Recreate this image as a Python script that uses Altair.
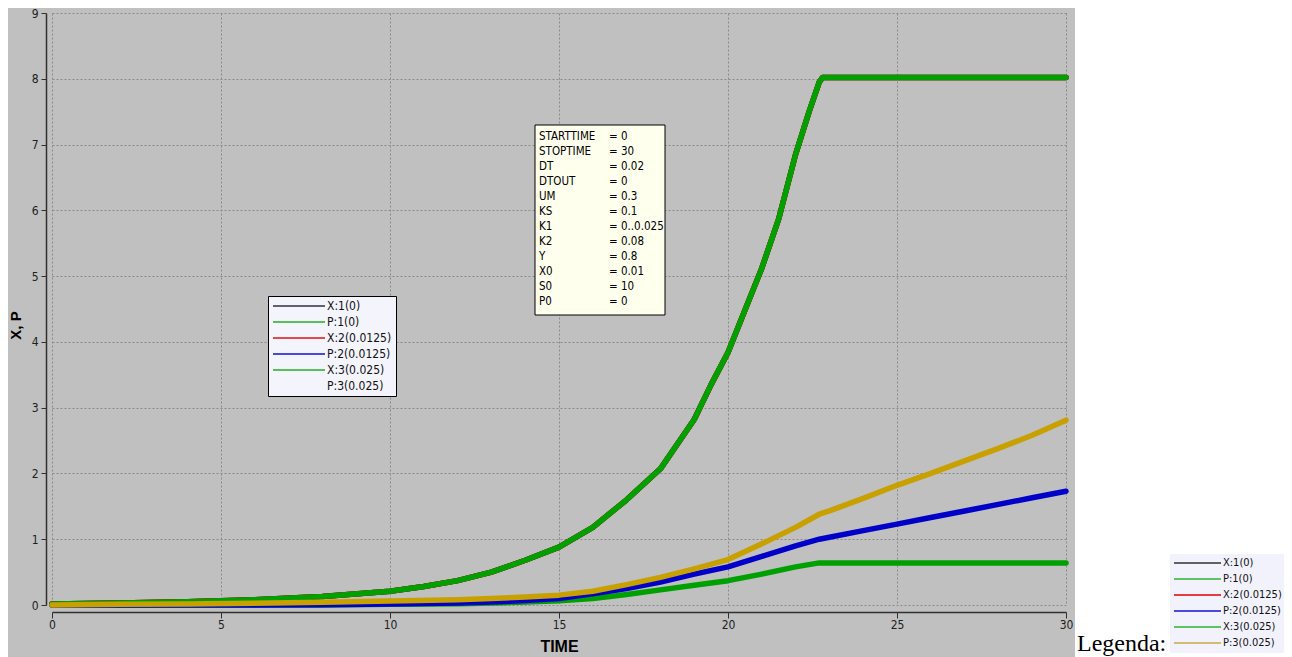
import altair as alt
import pandas as pd

# ---------------- data ----------------
series_names = ["X:1(0)", "P:1(0)", "X:2(0.0125)", "P:2(0.0125)", "X:3(0.025)", "P:3(0.025)"]
line_colors = ["#202020", "#00a000", "#e00000", "#0000c8", "#00a000", "#c8a000"]
right_legend_colors = ["#303030", "#30b030", "#e00000", "#1010e0", "#30b030", "#c8a840"]
inner_legend_colors = ["#303040", "#22b022", "#e01010", "#1010d0", "#22b022", "transparent"]

time_x = [0, 2, 4, 6, 8, 10, 11, 12, 13, 14, 15, 16, 17, 18, 19, 19.5, 20, 20.5,
          21, 21.5, 22, 22.4, 22.7, 22.8, 30]
biomass = [0.015, 0.03, 0.05, 0.08, 0.13, 0.21, 0.28, 0.37, 0.5, 0.68, 0.88, 1.18, 1.6,
           2.07, 2.82, 3.35, 3.84, 4.48, 5.12, 5.87, 6.85, 7.5, 7.95, 8.02, 8.02]

time_p = [0, 2, 4, 6, 8, 10, 12, 13, 14, 15, 16, 17, 18, 19, 20, 21, 22, 22.7, 23,
          24, 25, 26, 27, 28, 29, 30]
product_1 = [0, 0, 0, 0, 0, 0.01, 0.02, 0.03, 0.045, 0.065, 0.10, 0.16, 0.23, 0.30,
             0.37, 0.47, 0.58, 0.64, 0.64, 0.64, 0.64, 0.64, 0.64, 0.64, 0.64, 0.64]
product_2 = [0, 0, 0, 0, 0.005, 0.015, 0.03, 0.045, 0.07, 0.10, 0.17, 0.25, 0.35, 0.47,
             0.58, 0.74, 0.90, 1.00, 1.03, 1.13, 1.23, 1.33, 1.43, 1.53, 1.63, 1.73]
product_3 = [0, 0.01, 0.015, 0.025, 0.04, 0.06, 0.08, 0.10, 0.12, 0.15, 0.21, 0.31, 0.42,
             0.55, 0.69, 0.93, 1.18, 1.38, 1.43, 1.62, 1.82, 2.00, 2.19, 2.38, 2.58, 2.81]

param_names = ["STARTTIME", "STOPTIME", "DT", "DTOUT", "UM", "KS", "K1", "K2", "Y",
               "X0", "S0", "P0"]
param_values = ["= 0", "= 30", "= 0.02", "= 0", "= 0.3", "= 0.1", "= 0..0.025", "= 0.08",
                "= 0.8", "= 0.01", "= 10", "= 0"]

x_ticks = [0, 5, 10, 15, 20, 25, 30]
y_ticks = [0, 1, 2, 3, 4, 5, 6, 7, 8, 9]

series_data = {
    "X:1(0)": (time_x, biomass),
    "P:1(0)": (time_p, product_1),
    "X:2(0.0125)": (time_x, biomass),
    "P:2(0.0125)": (time_p, product_2),
    "X:3(0.025)": (time_x, biomass),
    "P:3(0.025)": (time_p, product_3),
}
rows = []
for name in series_names:
    ts, vs = series_data[name]
    for t, v in zip(ts, vs):
        rows.append({"series": name, "t": t, "v": v})
df = pd.DataFrame(rows)

NARROW = "Liberation Sans Narrow, DejaVu Sans Condensed, Arial Narrow, sans-serif"
SANS = "Liberation Sans, Arial, sans-serif"

x_enc = alt.X(
    "t:Q",
    scale=alt.Scale(domain=[0, 30], nice=False, zero=False),
    axis=alt.Axis(
        values=x_ticks, format="d", grid=True, gridColor="#8a8a8a", gridDash=[2, 2],
        gridWidth=1, offset=7, tickSize=6, tickColor="#303030", domainColor="#303030",
        domainWidth=1.5, labelFlush=False, labelPadding=1, labelFont=NARROW,
        labelFontSize=12, labelColor="#202020", title="TIME", titleFont=SANS,
        titleFontSize=16, titleFontWeight="bold", titleColor="#000000", titlePadding=8,
    ),
)
y_enc = alt.Y(
    "v:Q",
    scale=alt.Scale(domain=[0, 9], nice=False),
    axis=alt.Axis(
        values=y_ticks, format="d", grid=True, gridColor="#8a8a8a", gridDash=[2, 2],
        gridWidth=1, offset=6, tickSize=5, tickColor="#303030", domainColor="#303030",
        domainWidth=1.5, labelPadding=3, labelFont=NARROW, labelFontSize=12,
        labelColor="#202020", title="X, P", titleFont=SANS, titleFontSize=15,
        titleFontWeight="bold", titleColor="#000000", titlePadding=8, titleY=312,
    ),
)

one = pd.DataFrame({"k": [0]})

# white area to the right of the grey chart panel
white_side = alt.Chart(one).mark_rect(fill="#ffffff").encode(
    x=alt.value(1023), x2=alt.value(1400), y=alt.value(-20), y2=alt.value(700)
)

lines = alt.Chart(df).mark_line(strokeWidth=5.5, strokeCap="round", strokeJoin="round").encode(
    x=x_enc,
    y=y_enc,
    color=alt.Color("series:N", scale=alt.Scale(domain=series_names, range=line_colors),
                    legend=None),
)

inner_legend = alt.Legend(
    orient="none", legendX=216, legendY=283, title=None, symbolType="stroke",
    symbolSize=2704, symbolStrokeWidth=1.5, symbolOffset=0, labelOffset=1,
    clipHeight=12, rowPadding=4, padding=4, fillColor="#f4f4fc", strokeColor="#000000",
    labelFont=NARROW, labelFontSize=12, labelColor="#111111",
)
right_legend = alt.Legend(
    orient="none", legendX=1118, legendY=541, title=None, symbolType="stroke",
    symbolSize=2209, symbolStrokeWidth=1.5, symbolOffset=0, labelOffset=1,
    clipHeight=12, rowPadding=4, padding=3, fillColor="#f2f2fc", strokeColor="#f2f2fc",
    labelFont=NARROW, labelFontSize=11, labelColor="#111111",
)

legend_a = alt.Chart(df).transform_filter("datum.t > 1000").mark_line(strokeWidth=1.5).encode(
    x="t:Q", y="v:Q",
    color=alt.Color("series:N", scale=alt.Scale(domain=series_names, range=inner_legend_colors),
                    legend=inner_legend),
)
legend_b = alt.Chart(df).transform_filter("datum.t > 1000").mark_line(strokeWidth=1.5).encode(
    x="t:Q", y="v:Q",
    color=alt.Color("series:N", scale=alt.Scale(domain=series_names, range=right_legend_colors),
                    legend=right_legend),
)

param_box = alt.Chart(one).mark_rect(fill="#ffffee", stroke="#000000", strokeWidth=1).encode(
    x=alt.value(483), x2=alt.value(613), y=alt.value(112), y2=alt.value(302)
)
param_name_text = alt.Chart(one).mark_text(
    align="left", baseline="top", lineBreak="\n", lineHeight=15, font=NARROW,
    fontSize=11.5, color="#000000"
).encode(x=alt.value(487), y=alt.value(118), text=alt.value("\n".join(param_names)))
param_value_text = alt.Chart(one).mark_text(
    align="left", baseline="top", lineBreak="\n", lineHeight=15, font=NARROW,
    fontSize=11.5, color="#000000"
).encode(x=alt.value(557), y=alt.value(118), text=alt.value("\n".join(param_values)))

legenda_text = alt.Chart(one).mark_text(
    align="left", baseline="alphabetic", font="Liberation Serif, DejaVu Serif, serif",
    fontSize=24, color="#000000"
).encode(x=alt.value(1025), y=alt.value(638), text=alt.value("Legenda:"))

chart = alt.layer(
    white_side, lines, legend_a, legend_b, param_box, param_name_text, param_value_text,
    legenda_text
).resolve_scale(color="independent").properties(
    width=1014, height=592, autosize="none",
    padding={"left": 44, "top": 5, "right": 218, "bottom": 52},
    background="#c0c0c0",
).configure_view(strokeWidth=0)

chart.save("out.html", embed_options={"renderer": "svg", "actions": False})
